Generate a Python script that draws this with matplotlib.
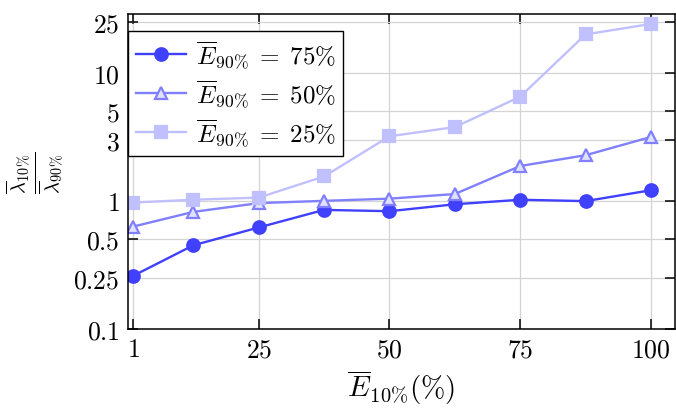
import matplotlib

matplotlib.use("Agg")
import matplotlib.pyplot as plt

plt.rcParams["mathtext.fontset"] = "cm"
plt.rcParams["font.family"] = "serif"
plt.rcParams["font.serif"] = ["cmr10", "DejaVu Serif"]
plt.rcParams["axes.formatter.use_mathtext"] = True

# E_10% (%) on the x axis
x_vals = [1, 12.5, 25, 37.5, 50, 62.5, 75, 87.5, 100]
# lambda_10% / lambda_90% per E_90% level
ratio_75 = [0.26, 0.45, 0.62, 0.85, 0.83, 0.94, 1.02, 0.995, 1.21]
ratio_50 = [0.63, 0.82, 0.96, 1.0, 1.04, 1.13, 1.87, 2.27, 3.15]
ratio_25 = [0.97, 1.02, 1.06, 1.55, 3.19, 3.76, 6.5, 19.9, 24.0]

x_ticks = [1, 25, 50, 75, 100]
y_ticks = [0.1, 0.25, 0.5, 1, 3, 5, 10, 25]
y_tick_labels = ["0.1", "0.25", "0.5", "1", "3", "5", "10", "25"]

series = [
    (ratio_75, r"$\overline{E}_{90\%}\;=\;75\%$", "#4040ff", "o", "#4040ff"),
    (ratio_50, r"$\overline{E}_{90\%}\;=\;50\%$", "#8080ff", "^", "#e0e0ff"),
    (ratio_25, r"$\overline{E}_{90\%}\;=\;25\%$", "#c0c0ff", "s", "#c0c0ff"),
]

fig = plt.figure(figsize=(6.76, 4.10), dpi=100)
ax = fig.add_axes([128 / 676, 80 / 410, 547 / 676, 315 / 410])

for vals, label, color, marker, face in series:
    ms = 9 if marker != "s" else 8.5
    ax.plot(x_vals, vals, color=color, lw=1.7, marker=marker, ms=ms,
            markerfacecolor=face, markeredgecolor=color, markeredgewidth=1.6,
            label=label)

ax.set_yscale("log")
ax.set_xlim(0, 104.6)
ax.set_ylim(0.1, 28.7)
ax.set_xticks(x_ticks)
ax.set_xticklabels([f"${t}$" for t in x_ticks])
ax.set_yticks(y_ticks)
ax.set_yticklabels([f"${t}$" for t in y_tick_labels])
ax.minorticks_off()
ax.tick_params(direction="in", length=7, width=1.1, top=True, right=True,
               labelsize=18.5, pad=6)
ax.grid(True, color="#d4d4d4", lw=0.9)
ax.set_axisbelow(True)
for sp in ax.spines.values():
    sp.set_linewidth(1.1)

ax.set_xlabel(r"$\overline{E}_{10\%}(\%)$", fontsize=21, labelpad=5)
ax.set_ylabel(r"$\frac{\overline{\lambda}_{10\%}}{\overline{\lambda}_{90\%}}$",
              fontsize=21, labelpad=6)

leg = ax.legend(loc="upper left", bbox_to_anchor=(0, 0.946), borderaxespad=0,
                fontsize=18, fancybox=False, framealpha=1, edgecolor="black",
                handlelength=2.0, handletextpad=0.4, borderpad=0.3,
                labelspacing=0.3)
leg.get_frame().set_linewidth(1.0)

fig.savefig("out.png", dpi=100)
